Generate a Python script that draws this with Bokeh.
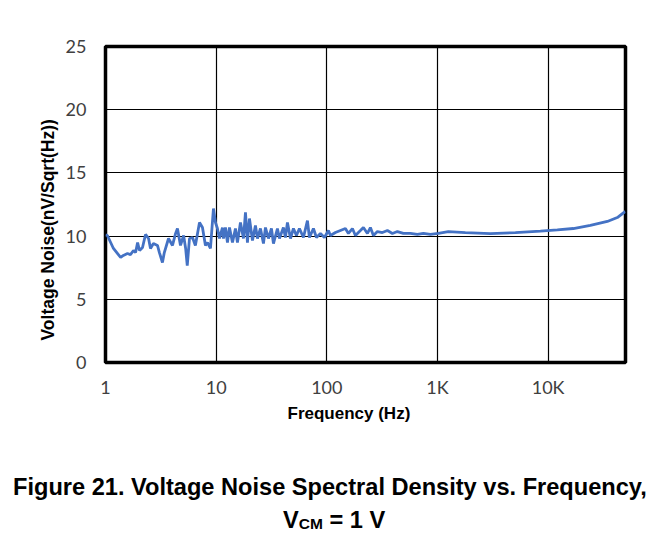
import math
from bokeh.plotting import figure
from bokeh.models import Range1d, FixedTicker, Title, Div
from bokeh.layouts import column
from bokeh.embed import file_html
from bokeh.resources import INLINE

# ---- data ----
freq = [1.0, 1.04, 1.18, 1.37, 1.45, 1.58, 1.68, 1.79, 1.87, 1.95, 2.03, 2.16, 2.30, 2.45, 2.55,
        2.71, 2.95, 3.07, 3.27, 3.40, 3.71, 4.03, 4.30, 4.47, 4.76, 5.08, 5.30, 5.48, 5.74,
        6.11, 6.49, 7.07, 7.52, 8.0, 8.35, 8.88, 9.45, 9.86, 10.27, 10.71, 11.40, 11.64,
        12.13, 12.65, 13.19, 14.04, 14.94, 15.57, 16.58, 17.65, 18.40, 19.17, 19.99, 21.28,
        22.65, 23.61, 25.13, 26.75, 27.89, 29.68, 31.59, 32.94, 35.79, 37.31, 40.54, 42.27,
        44.07, 46.91, 49.93, 53.14, 56.56, 61.45, 66.80, 69.63, 75.68, 80.55, 87.55, 95.12,
        103.4, 107.8, 119.6, 132.7, 147.2, 156.7, 170.3, 181.3, 201.2, 214.1, 232.7, 247.6,
        263.7, 286.5, 317.9, 352.7, 391.4, 434.3, 492.0, 569.1, 658.2, 745.8, 862.7, 1019,
        1254, 1786, 3006, 5058, 8508, 12110, 16890, 24060, 34270, 42170, 49770]
noise = [10.1, 10.05, 9.02, 8.31, 8.47, 8.62, 8.54, 8.86, 8.70, 9.49, 8.86, 9.10, 10.13, 9.81, 9.02,
         9.41, 9.26, 8.70, 7.91, 8.70, 9.81, 9.26, 10.21, 10.60, 9.26, 10.05, 9.02, 7.67, 9.81,
         9.89, 9.26, 11.08, 10.68, 9.26, 9.49, 9.02, 12.18, 11.08, 10.60, 9.81, 10.68, 9.81,
         10.68, 9.49, 10.68, 9.49, 10.60, 9.49, 11.08, 9.81, 11.87, 9.49, 11.39, 9.65,
         10.84, 9.81, 10.60, 9.41, 10.68, 9.81, 10.60, 9.41, 10.60, 9.81, 10.68, 9.89,
         11.08, 9.81, 10.60, 10.05, 10.60, 9.89, 11.23, 9.89, 10.60, 9.89, 10.21, 9.89,
         10.44, 10.05, 10.28, 10.44, 10.60, 10.21, 10.60, 10.05, 10.44, 10.68, 10.21, 10.68,
         10.05, 10.36, 10.28, 10.44, 10.21, 10.36, 10.21, 10.21, 10.13, 10.21, 10.13, 10.21,
         10.36, 10.28, 10.20, 10.28, 10.40, 10.50, 10.60, 10.84, 11.16, 11.47, 11.95]

x_ticks = [1, 10, 100, 1000, 10000]
x_tick_labels = ["1", "10", "100", "1K", "10K"]
y_ticks = [0, 5, 10, 15, 20, 25]

x_title = "Frequency (Hz)"
y_title = "Voltage Noise(nV/Sqrt(Hz))"
caption1 = "Figure 21. Voltage Noise Spectral Density vs. Frequency,"
caption2_main = "V"
caption2_sub = "CM"
caption2_rest = " = 1 V"

FONT = "Liberation Sans"

# ---- figure ----
p = figure(width=645, height=430, x_axis_type="log",
           x_range=Range1d(1, 50000), y_range=Range1d(0, 25),
           output_backend="svg", toolbar_location=None,
           min_border_left=105, min_border_right=20,
           min_border_top=46, min_border_bottom=68)

p.outline_line_color = "black"
p.outline_line_width = 3.5
p.background_fill_color = "white"
p.border_fill_color = "white"

p.xaxis.ticker = FixedTicker(ticks=x_ticks)
p.xaxis.major_label_overrides = {t: l for t, l in zip(x_ticks, x_tick_labels)}
p.yaxis.ticker = FixedTicker(ticks=y_ticks)
for ax in (p.xaxis, p.yaxis):
    ax.axis_line_color = None
    ax.major_tick_line_color = None
    ax.minor_tick_line_color = None
    ax.major_label_text_font = "Lato"
    ax.major_label_text_font_size = "18px"
    ax.major_label_text_color = "#404040"
p.xaxis.major_label_standoff = 7
p.yaxis.major_label_standoff = 13

p.xgrid.ticker = FixedTicker(ticks=x_ticks)
p.ygrid.ticker = FixedTicker(ticks=y_ticks)
p.xgrid.grid_line_color = "black"
p.ygrid.grid_line_color = "black"
p.xgrid.grid_line_width = 1.2
p.ygrid.grid_line_width = 1.2

p.line(freq, noise, line_color="#4472C4", line_width=2.8)

# axis titles as titles in the side panels
p.add_layout(Title(text=y_title, align="left", offset=22, standoff=10,
                   text_font=FONT, text_font_style="bold", text_font_size="17.5px",
                   text_color="black"), "left")
p.add_layout(Title(text=x_title, align="left", offset=182, standoff=2,
                   text_font=FONT, text_font_style="bold", text_font_size="17px",
                   text_color="black"), "below")

# figure caption (two lines, second with subscript) as HTML text
line_style = ("font-family:'Liberation Sans'; font-weight:bold; font-size:23.6px; "
              "line-height:20px; white-space:nowrap; color:black;")
cap = Div(
    text=(f'<div style="{line_style} padding-top:47px; padding-left:13px;">{caption1}</div>'
          f'<div style="{line_style} margin-top:13px; padding-left:283px;">'
          f'{caption2_main}<span style="font-size:15.5px; position:relative; top:1px;">'
          f'{caption2_sub}</span>{caption2_rest}</div>'),
    width=645, height=113, margin=0, styles={"overflow": "visible"})

layout = column(p, cap, spacing=0)

open("out.html", "w").write(file_html(layout, INLINE))
